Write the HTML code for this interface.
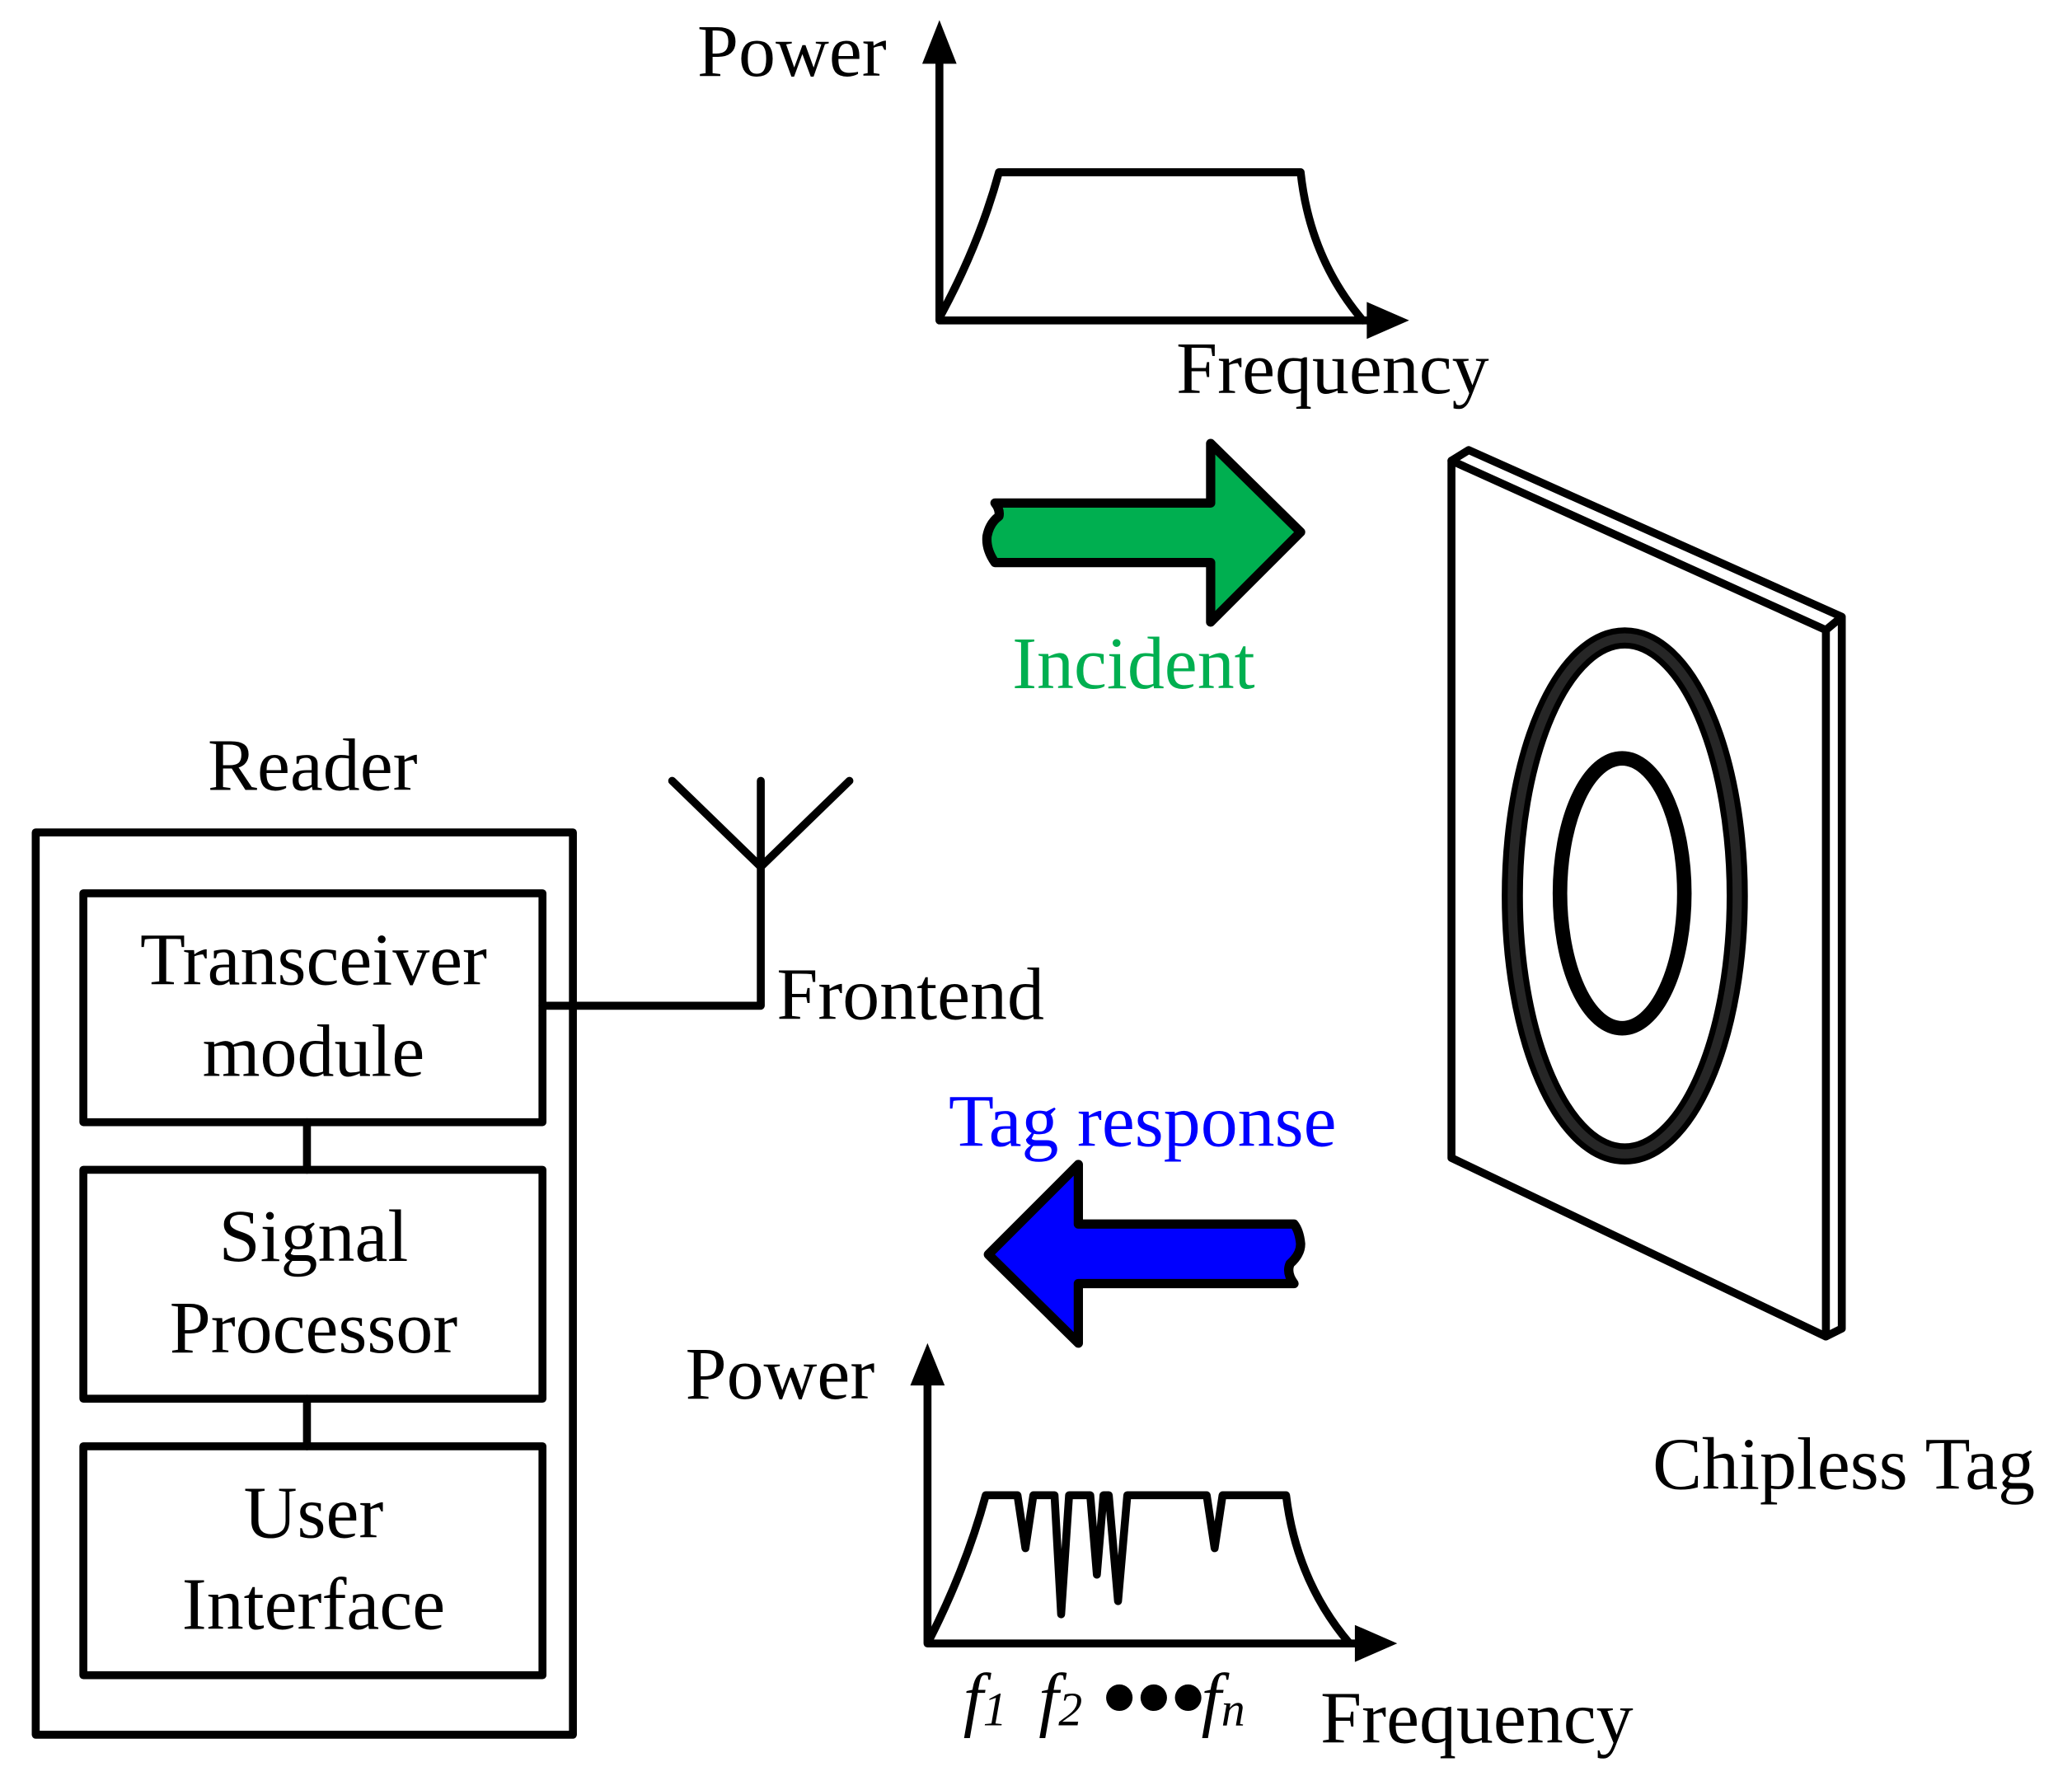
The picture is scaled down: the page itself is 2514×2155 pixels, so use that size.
<!DOCTYPE html>
<html><head><meta charset="utf-8"><style>
html,body{margin:0;padding:0;background:#fff;}
svg{display:block;}
text{font-family:"Liberation Serif",serif;}
</style></head><body>
<svg width="2514" height="2155" viewBox="0 0 1566 1342" xmlns="http://www.w3.org/2000/svg">
<rect width="1566" height="1342" fill="#fff"/>
<g fill="none" stroke="#000" stroke-width="6" stroke-linejoin="round" stroke-linecap="round">
<!-- top chart -->
<path d="M710,242 V40 M710,242 H1035"/>
<path d="M710,240 Q740,185 755,130 H983 Q990,195 1030,242"/>
<!-- bottom chart -->
<path d="M701,1242 V1040 M701,1242 H1025"/>
<path d="M702,1240 Q730,1185 745,1130 H769 L775,1170 L781,1130 H797 L802,1220 L808,1130 H824 L829,1190 L834,1130 H838 L845,1210 L852,1130 H912 L918,1170 L924,1130 H972 Q980,1195 1020,1242"/>
<!-- reader -->
<rect x="27" y="629" width="406" height="682"/>
<rect x="63" y="675" width="347" height="173"/>
<rect x="63" y="884" width="347" height="173"/>
<rect x="63" y="1093" width="347" height="173"/>
<path d="M232,848 V884 M232,1057 V1093"/>
<path d="M410,760 H575 V590 M508,590 L575,655 L642,590"/>
<!-- tag -->
<path d="M1097,348 L1380,476 V1010 L1097,875 Z" fill="#fff"/>
<path d="M1097,348 L1110,340 L1392,466 L1380,476 M1392,466 V1004 L1380,1010"/>
</g>
<ellipse cx="1228" cy="677" rx="85" ry="195" fill="none" stroke="#000" stroke-width="16"/>
<ellipse cx="1228" cy="677" rx="85" ry="195" fill="none" stroke="#262626" stroke-width="7"/>
<ellipse cx="1226" cy="675" rx="47" ry="102" fill="none" stroke="#000" stroke-width="11"/>
<!-- axis arrowheads -->
<polygon points="710,15 697,48 723,48" fill="#000"/>
<polygon points="1065,242 1033,228 1033,256" fill="#000"/>
<polygon points="701,1015 688,1047 714,1047" fill="#000"/>
<polygon points="1056,1242 1024,1228 1024,1256" fill="#000"/>
<!-- green arrow -->
<path d="M752,380 H915 V335 L983,402 L915,470 V425 H752 Q745,415 746,405 Q748,395 755,390 Q756,385 752,380 Z" fill="#00AF50" stroke="#000" stroke-width="7" stroke-linejoin="round"/>
<!-- blue arrow -->
<path d="M978,925 H815 V880 L747,948 L815,1015 V970 H978 Q972,962 975,955 Q983,948 983,940 Q982,930 978,925 Z" fill="#0000FF" stroke="#000" stroke-width="7" stroke-linejoin="round"/>
<!-- text -->
<g font-size="56" fill="#000">
<text x="527" y="57">Power</text>
<text x="889" y="297">Frequency</text>
<text x="157" y="597">Reader</text>
<text x="237" y="744" text-anchor="middle">Transceiver</text>
<text x="237" y="813" text-anchor="middle">module</text>
<text x="237" y="953" text-anchor="middle">Signal</text>
<text x="237" y="1022" text-anchor="middle">Processor</text>
<text x="237" y="1162" text-anchor="middle">User</text>
<text x="237" y="1231" text-anchor="middle">Interface</text>
<text x="587" y="770">Frontend</text>
<text x="518" y="1057">Power</text>
<text x="998" y="1317">Frequency</text>
<text x="1249" y="1125">Chipless Tag</text>
<text x="765" y="520" fill="#00AF50">Incident</text>
<text x="717" y="866" fill="#0000FF">Tag response</text>
</g>
<g font-size="54" font-style="italic" fill="#000">
<text x="728" y="1302">f<tspan font-size="36" dy="2">1</tspan></text>
<text x="785" y="1302">f<tspan font-size="36" dy="2">2</tspan></text>
<text x="908" y="1302">f<tspan font-size="36" dy="2">n</tspan></text>
</g>
<circle cx="846" cy="1283" r="10" fill="#000"/>
<circle cx="872" cy="1283" r="10" fill="#000"/>
<circle cx="898" cy="1283" r="10" fill="#000"/>
</svg>
</body></html>
